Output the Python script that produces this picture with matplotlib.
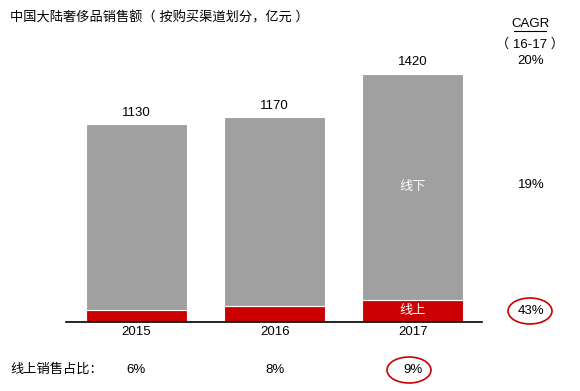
import numpy as np
import matplotlib.pyplot as plt
from matplotlib.patches import Ellipse
import matplotlib.transforms as mtransforms

plt.rcParams['font.family'] = ['Liberation Sans', 'Noto Sans CJK SC']

# 数据
years = ['2015', '2016', '2017']
total = [1130, 1170, 1420]
online = [68, 94, 128]
online_share = ['6%', '8%', '9%']
cagr_labels = ['20%', '19%', '43%']

grey = '#a0a0a0'
red = '#cc0000'

fig = plt.figure(figsize=(5.8, 3.91), dpi=100)
ax = fig.add_axes([66/580, 69/391, 416/580, 280/391])

x = np.arange(len(years))
offline = [t - o for t, o in zip(total, online)]
ax.bar(x, online, 0.73, color=red, edgecolor='white', linewidth=0.8)
ax.bar(x, offline, 0.73, bottom=online, color=grey, edgecolor='white', linewidth=0.8)

ax.set_xlim(-0.51, 2.5)
ax.set_ylim(0, 1600)
ax.set_xticks(x)
ax.set_xticklabels(years, fontsize=9.5)
ax.tick_params(axis='both', length=0, pad=3)
ax.set_yticks([])
for s in ['top', 'left', 'right']:
    ax.spines[s].set_visible(False)
ax.spines['bottom'].set_linewidth(1.2)

# 柱顶数值
for xi, t in zip(x, total):
    ax.text(xi, t + 30, str(t), ha='center', va='bottom', fontsize=9.5)

# 柱内标签
ax.text(x[2], online[2] + (total[2] - online[2]) / 2, '线下', ha='center', va='center',
        color='white', fontsize=9.5)
ax.text(x[2], online[2] / 2, '线上', ha='center', va='center', color='white', fontsize=9.5)

# 底部线上占比
trans = mtransforms.blended_transform_factory(ax.transData, fig.transFigure)
for xi, s in zip(x, online_share):
    ax.text(xi, 1 - 370/391, s, transform=trans, ha='center', va='center', fontsize=9.5)

# 叠加层，像素坐标
ov = fig.add_axes([0, 0, 1, 1], zorder=-1)
ov.set_xlim(0, 580)
ov.set_ylim(391, 0)
ov.axis('off')

ov.text(10, 18, '中国大陆奢侈品销售额（ 按购买渠道划分，亿元 ）', ha='left', va='center', fontsize=9.5)
ov.text(10, 370, '线上销售占比：', ha='left', va='center', fontsize=9.5)

ov.text(530, 24, 'CAGR', ha='center', va='center', fontsize=9.5)
ov.plot([514, 546], [31, 31], color='black', lw=0.8)
ov.text(530, 44, '（ 16-17 ）', ha='center', va='center', fontsize=9.5)
for yy, s in zip([61, 185, 311], cagr_labels):
    ov.text(531, yy, s, ha='center', va='center', fontsize=9.5)

# 红色圈注
ov.add_patch(Ellipse((530, 311), 44, 26, fill=False, edgecolor=red, lw=1.2))
ov.add_patch(Ellipse((409, 370), 44, 26, fill=False, edgecolor=red, lw=1.2))

fig.savefig('out.png', dpi=100)
